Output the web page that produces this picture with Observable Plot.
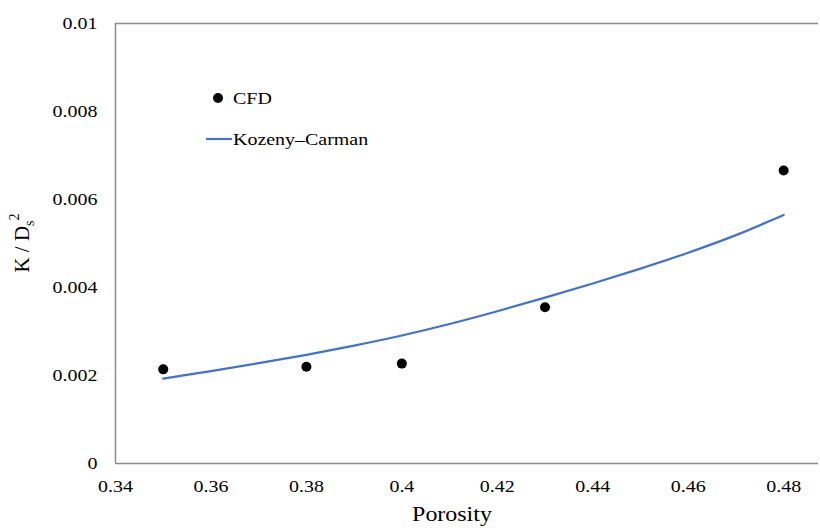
<!DOCTYPE html>
<html>
<head>
<meta charset="utf-8">
<script src="https://cdn.jsdelivr.net/npm/d3@7"></script>
<script src="https://cdn.jsdelivr.net/npm/@observablehq/plot@0.6"></script>
<style>
  html, body { margin: 0; padding: 0; background: #fff; }
  #wrap { position: relative; width: 820px; height: 528px; }
</style>
</head>
<body>
<div id="wrap"></div>
<script>
// CFD data points
const cfdPorosity = [0.35, 0.38, 0.40, 0.43, 0.48];
const cfdValue    = [0.00214, 0.00220, 0.00227, 0.00355, 0.00666];

// Kozeny–Carman curve
const kcPorosity = [0.35, 0.36, 0.37, 0.38, 0.39, 0.40, 0.41, 0.42, 0.43, 0.44, 0.45, 0.46, 0.47, 0.48];
const kcValue    = [0.00193, 0.00210, 0.00228, 0.00247, 0.00268, 0.00291, 0.00317, 0.00346, 0.00377, 0.00409, 0.00443, 0.00479, 0.00519, 0.00565];

const xTicks = [0.34, 0.36, 0.38, 0.40, 0.42, 0.44, 0.46, 0.48];
const yTicks = [0, 0.002, 0.004, 0.006, 0.008, 0.01];
const xDomain = [0.34, 0.4873];
const yDomain = [0, 0.01];

const seriesNames = ["CFD", "Kozeny–Carman"];
const lineColor = "#4472C4";
const axisColor = "#8c8c8c";
const serif = "'Liberation Serif', 'Times New Roman', serif";

const cfd = cfdPorosity.map((p, i) => ({p, v: cfdValue[i]}));
const kc = kcPorosity.map((p, i) => ({p, v: kcValue[i]}));

const chart = Plot.plot({
  width: 820,
  height: 528,
  marginLeft: 115,
  marginRight: 2,
  marginTop: 23,
  marginBottom: 65,
  style: {fontFamily: serif, fontSize: "17.5px", color: "#000", background: "#fff"},
  x: {domain: xDomain, ticks: xTicks, tickFormat: d => String(+d.toFixed(2)), tickSize: 0, tickPadding: 16, label: null},
  y: {domain: yDomain, ticks: yTicks, tickFormat: d => String(+d.toFixed(3)), tickSize: 0, tickPadding: 18, label: null},
  marks: [
    Plot.ruleX([xDomain[0]], {stroke: axisColor, strokeWidth: 1.5}),
    Plot.ruleY(yDomain, {stroke: axisColor, strokeWidth: 1.5}),
    Plot.line(kc, {x: "p", y: "v", stroke: lineColor, strokeWidth: 2.2, curve: "catmull-rom"}),
    Plot.dot(cfd, {x: "p", y: "v", r: 5, fill: "#000", stroke: "none"})
  ]
});

const wrap = document.getElementById("wrap");
wrap.appendChild(chart);
const svg = d3.select(chart);

// Axis titles
svg.append("text")
  .attr("class", "stretch")
  .attr("x", 452).attr("y", 521)
  .attr("text-anchor", "middle")
  .style("font-size", "21px")
  .style("font-family", serif)
  .attr("fill", "#000")
  .text("Porosity");

const yt = svg.append("text")
  .attr("transform", "translate(29,243) rotate(-90)")
  .attr("text-anchor", "middle")
  .style("font-size", "21px")
  .style("font-family", serif)
  .attr("fill", "#000");
yt.append("tspan").text("K / D");
yt.append("tspan").attr("dy", 5).style("font-size", "14px").text("s");
yt.append("tspan").attr("dy", -15).style("font-size", "14px").text("2");

// Legend
const lg = svg.append("g")
  .attr("text-anchor", "start")
  .style("font-family", serif)
  .style("font-size", "17.5px");
lg.append("circle").attr("cx", 218).attr("cy", 98).attr("r", 5).attr("fill", "#000");
lg.append("text").attr("class", "stretch").attr("text-anchor", "start")
  .attr("x", 233).attr("y", 104).attr("fill", "#000").text(seriesNames[0]);
lg.append("line").attr("x1", 206).attr("x2", 232).attr("y1", 139).attr("y2", 139)
  .attr("stroke", lineColor).attr("stroke-width", 2.2);
lg.append("text").attr("class", "stretch").attr("text-anchor", "start")
  .attr("x", 233).attr("y", 145).attr("fill", "#000").text(seriesNames[1]);

// Widen text horizontally, as in the reference
const stretch = 1.14;
chart.querySelectorAll("g[aria-label$='tick label'] text, text.stretch").forEach(t => {
  const len = t.getComputedTextLength();
  t.setAttribute("textLength", (len * stretch).toFixed(1));
  t.setAttribute("lengthAdjust", "spacingAndGlyphs");
});
</script>
</body>
</html>
